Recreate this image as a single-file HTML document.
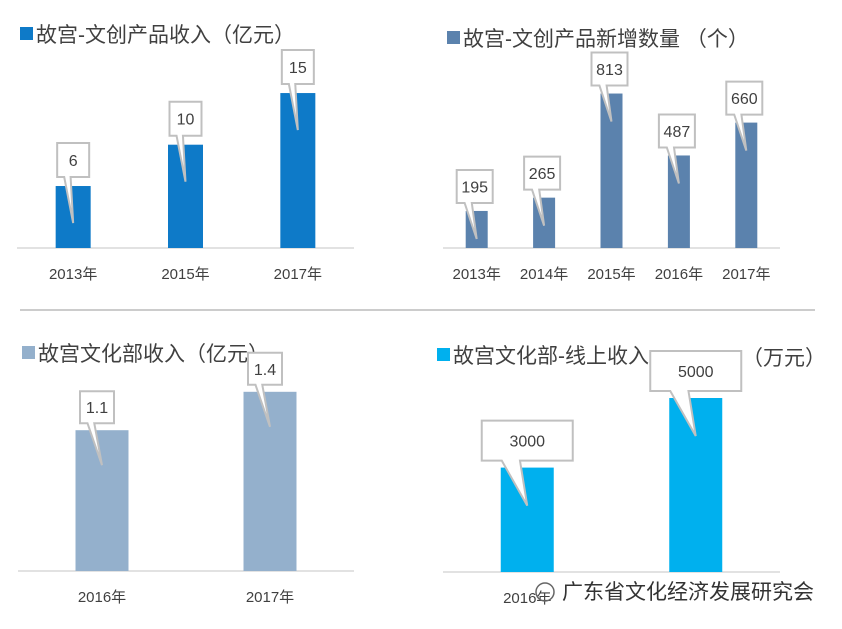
<!DOCTYPE html>
<html><head><meta charset="utf-8"><style>
body{margin:0;background:#fff;}
svg{display:block;font-family:"Liberation Sans","Noto Sans CJK SC",sans-serif;}
</style></head><body>
<svg id="c" width="842" height="629" viewBox="0 0 842 629">
<line x1="20" y1="310" x2="815" y2="310" stroke="#999" stroke-width="1"/>
</svg>
<script>
const p1Cats=["2013年","2015年","2017年"];
const p1Vals=[6,10,15];
const p1Labels=["6","10","15"];
const p2Cats=["2013年","2014年","2015年","2016年","2017年"];
const p2Vals=[195,265,813,487,660];
const p2Labels=["195","265","813","487","660"];
const p3Cats=["2016年","2017年"];
const p3Vals=[1.1,1.4];
const p3Labels=["1.1","1.4"];
const p4Cats=["2016年",""];
const p4Vals=[3000,5000];
const p4Labels=["3000","5000"];

const NS="http://www.w3.org/2000/svg";
const svg=document.getElementById('c');
function mk(t,a,p){const e=document.createElementNS(NS,t);for(const k in a)e.setAttribute(k,a[k]);(p||svg).appendChild(e);return e;}

function panel(cfg){
  const g=mk('g',{});
  
  
  const sq=mk('rect',{x:cfg.lx,y:cfg.ty-15,width:13,height:13,fill:cfg.color},g);
  
  
  const tt=mk('text',{x:cfg.lx+16,y:cfg.ty,'font-size':21,fill:'#404040'},g);
  tt.textContent=cfg.title;
  
  
  const ax=mk('line',{x1:cfg.ax0,x2:cfg.ax1,y1:cfg.base,y2:cfg.base,stroke:'#d9d9d9','stroke-width':1.5},g);
  
  
  const n=cfg.cats.length, band=(cfg.ax1-cfg.ax0)/n;
  const y=v=>cfg.base-v*cfg.scale;
  cfg.vals.forEach((v,i)=>{
    const cx=cfg.ax0+band*(i+0.5);
    const top=y(v);
    const b=mk('rect',{x:cx-cfg.bw/2,y:top,width:cfg.bw,height:cfg.base-top,fill:cfg.color},g);
    
    
    if(cfg.cats[i]){
      const t=mk('text',{x:cx,y:cfg.base+31,'text-anchor':'middle','font-size':15,fill:'#404040'},g);
      t.textContent=cfg.cats[i];
      
      
    }
    const w=cfg.cw,h=cfg.ch;
    const bx=cx-w/2+cfg.cox, by=top-cfg.gap-h;
    const tipx=cx, tipy=top+cfg.tip;
    const pa=bx+w*0.22, pb=bx+w*0.42;
    const d=`M${bx},${by}H${bx+w}V${by+h}H${pb}L${tipx},${tipy}L${pa},${by+h}H${bx}Z`;
    const c=mk('path',{d:d,fill:'#fff',stroke:'#c0c0c0','stroke-width':2},g);
    
    
    const lt=mk('text',{x:bx+w/2,y:by+h/2+6,'text-anchor':'middle','font-size':16,fill:'#404040'},g);
    lt.textContent=cfg.labels[i];
    
    
  });
}
panel({name:'panel-product-revenue',title:'故宫-文创产品收入（亿元）',color:'#0e7ac8',lx:20,ty:42,ax0:17,ax1:354,base:248,scale:10.33,bw:35,cats:p1Cats,vals:p1Vals,labels:p1Labels,cw:32,ch:34,gap:9,tip:37,cox:0});
panel({name:'panel-new-products',title:'故宫-文创产品新增数量  （个）',color:'#5b82ad',lx:447,ty:46,ax0:443,ax1:780,base:248,scale:0.19,bw:22,cats:p2Cats,vals:p2Vals,labels:p2Labels,cw:36,ch:33,gap:8,tip:28,cox:-2});
panel({name:'panel-culture-dept-revenue',title:'故宫文化部收入（亿元）',color:'#94b0cc',lx:22,ty:361,ax0:18,ax1:354,base:571,scale:128,bw:53,cats:p3Cats,vals:p3Vals,labels:p3Labels,cw:34,ch:32,gap:7,tip:35,cox:-5});
panel({name:'panel-online-revenue',title:'故宫文化部-线上收入',color:'#00b0ee',lx:437,ty:363,ax0:443,ax1:780,base:572,scale:0.0348,bw:53,cats:p4Cats,vals:p4Vals,labels:p4Labels,cw:91,ch:40,gap:7,tip:38,cox:0});
const u=mk('text',{x:742,y:365,'font-size':21,fill:'#404040'});u.textContent='（万元）';


const ic=mk('circle',{cx:545,cy:592,r:9,fill:'none',stroke:'#666','stroke-width':1.5});


const wm=mk('text',{x:562,y:599,'font-size':21,fill:'#333'});wm.textContent='广东省文化经济发展研究会';


</script>
</body></html>
